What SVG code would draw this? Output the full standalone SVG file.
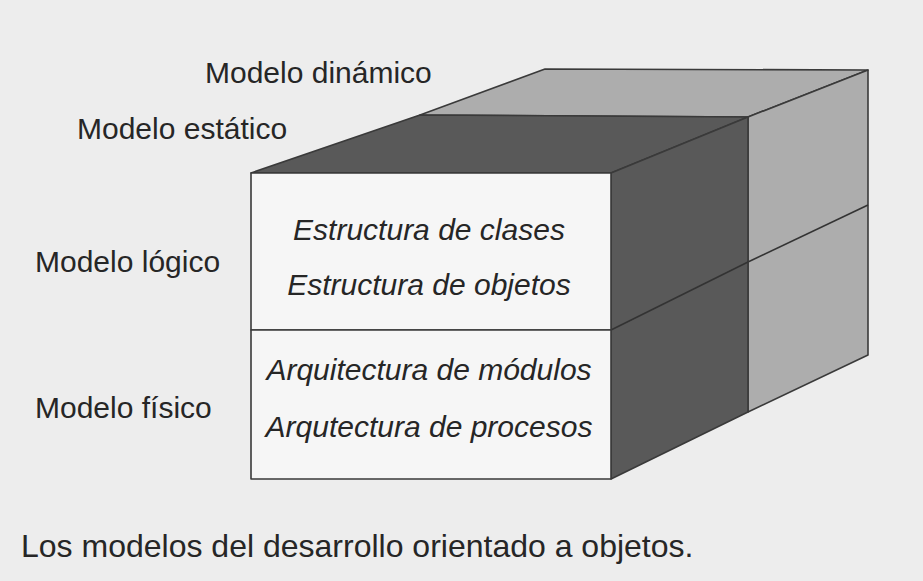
<svg xmlns="http://www.w3.org/2000/svg" width="923" height="581" viewBox="0 0 923 581">
<style>
.bg{fill:#ededed}
.face{stroke:#3a3a3a;stroke-width:1.6;stroke-linejoin:round}
.front{fill:#f6f6f6}
.dark{fill:#595959}
.light{fill:#adadad}
.edge{fill:none;stroke:#333;stroke-width:1.6}
.lbl{font-family:"Liberation Sans",Arial,sans-serif;font-size:30px;fill:#262626}
.it{font-style:italic;text-anchor:middle}
.cap{font-size:32px}
</style>
<rect class="bg" x="0" y="0" width="923" height="581"/>
<g id="cube">
  <g id="modelo-dinamico">
    <polygon class="face light" points="420,115 545,69 868,70 748,117"/>
    <polygon class="face light" points="748,117 868,70 868,355 748,412"/>
    <line class="edge" x1="748" y1="262" x2="868" y2="205"/>
  </g>
  <g id="modelo-estatico">
    <polygon class="face dark" points="251,173 420,115 748,117 611,173"/>
    <polygon class="face dark" points="611,173 748,117 748,412 611,479"/>
    <line class="edge" x1="611" y1="330" x2="748" y2="262"/>
  </g>
  <g id="modelo-logico">
    <rect class="face front" x="251" y="173" width="360" height="157"/>
    <text class="lbl it" x="429" y="240">Estructura de clases</text>
    <text class="lbl it" x="429" y="295">Estructura de objetos</text>
  </g>
  <g id="modelo-fisico">
    <rect class="face front" x="251" y="330" width="360" height="149"/>
    <text class="lbl it" x="429" y="380">Arquitectura de módulos</text>
    <text class="lbl it" x="429" y="437">Arqutectura de procesos</text>
  </g>
</g>
<g id="labels">
  <text class="lbl" x="205" y="83">Modelo dinámico</text>
  <text class="lbl" x="77" y="139">Modelo estático</text>
  <text class="lbl" x="35" y="272">Modelo lógico</text>
  <text class="lbl" x="35" y="418">Modelo físico</text>
  <text class="lbl cap" x="21" y="557">Los modelos del desarrollo orientado a objetos.</text>
</g>
<g id="connectors"/>
</svg>
